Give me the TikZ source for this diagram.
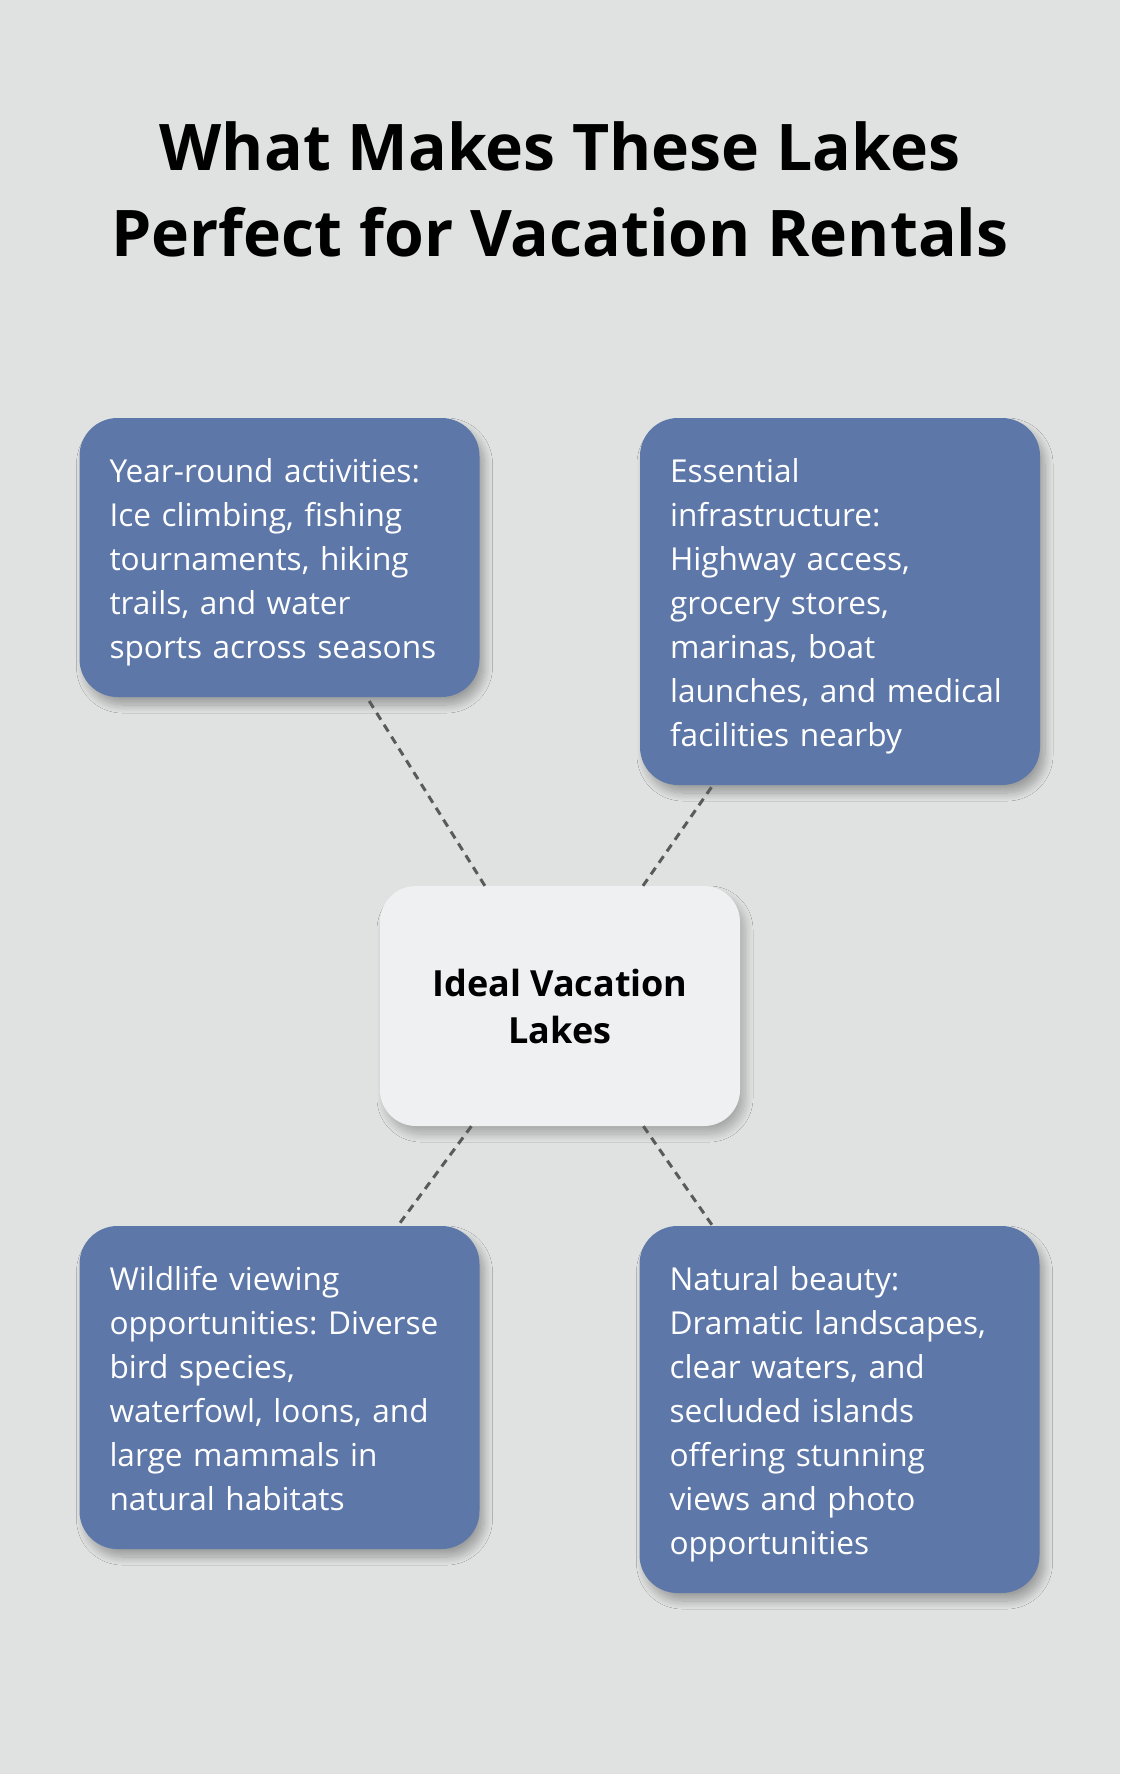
\documentclass[tikz,border=0pt]{standalone}
\usepackage{fontspec}
\setmainfont{Open Sans}
\usetikzlibrary{shadows.blur}
\definecolor{bgcol}{HTML}{E0E2E1}
\definecolor{boxcol}{HTML}{5D77A8}
\definecolor{hubcol}{HTML}{EFF0F2}
\definecolor{linkcol}{HTML}{5A5A5A}
\frenchspacing
\begin{document}
\begin{tikzpicture}[x=1pt,y=-1pt,line join=round,
    card/.style={draw=none,fill=boxcol,rounded corners=38pt,text=white,
        text width=340pt,align=left,inner sep=30pt,minimum width=400pt,
        font=\fontsize{31.6}{44}\selectfont,
        execute at begin node={\rule{0pt}{33pt}},
        execute at end node={\rule[-8pt]{0pt}{0pt}},
        blur shadow={shadow xshift=5pt,shadow yshift=-8pt,shadow blur radius=8pt,shadow blur steps=12,shadow opacity=30}},
    hub/.style={draw=none,fill=hubcol,rounded corners=36pt,align=center,
        minimum width=360pt,minimum height=240pt,inner sep=0pt,
        font=\fontsize{36}{47}\selectfont\bfseries,
        blur shadow={shadow xshift=5pt,shadow yshift=-8pt,shadow blur radius=8pt,shadow blur steps=12,shadow opacity=25}},
    link/.style={draw=linkcol,line width=3pt,dash pattern=on 8pt off 6pt}]
    \useasboundingbox[fill=bgcol] (0,0) rectangle (1120,1774);
    \node[align=center,font=\fontsize{64.3}{86}\selectfont\bfseries] (title) at (560,189)
        {What Makes These Lakes\\Perfect for Vacation Rentals};
    \node[hub] (lakes) at (560,1006) {Ideal Vacation\\Lakes};
    \node[card,minimum height=279pt] (act) at (279.5,557.5)
        {Year-round activities:\\Ice climbing, fishing\\tournaments, hiking\\trails, and water\\sports across seasons};
    \node[card,minimum height=367pt] (infra) at (840,601.5)
        {Essential\\infrastructure:\\Highway access,\\grocery stores,\\marinas, boat\\launches, and medical\\facilities nearby};
    \node[card,minimum height=323pt] (wild) at (279.5,1387.5)
        {Wildlife viewing\\opportunities: Diverse\\bird species,\\waterfowl, loons, and\\large mammals in\\natural habitats};
    \node[card,minimum height=367pt] (beauty) at (839.5,1409.5)
        {Natural beauty:\\Dramatic landscapes,\\clear waters, and\\secluded islands\\offering stunning\\views and photo\\opportunities};
    \foreach \card in {act,infra,wild,beauty}
        \draw[link] (lakes) -- (\card);
\end{tikzpicture}
\end{document}
